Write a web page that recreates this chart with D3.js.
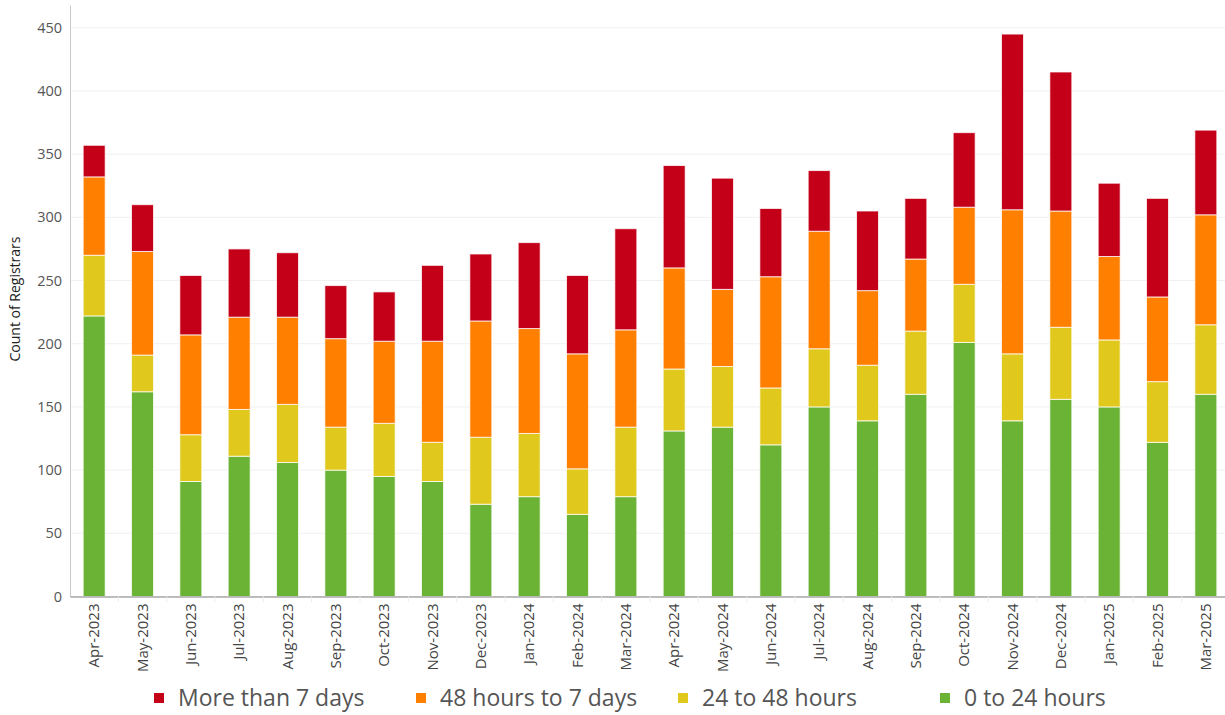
<!DOCTYPE html>
<html lang="en">
<head>
    <meta charset="UTF-8">
    <meta name="viewport" content="width=device-width, initial-scale=1.0">
    <title>Count of Registrars by response time</title>
    <style>
        body {
            font-family: "Open Sans", Arial, sans-serif;
            margin: 0;
            padding: 0;
            background: #fff;
        }

        svg {
            display: block;
        }
    </style>
</head>
<body>
    <svg id="chart"></svg>
    <script src="https://d3js.org/d3.v7.min.js"></script>
    <script>
        // Data
        const months = ["Apr-2023", "May-2023", "Jun-2023", "Jul-2023", "Aug-2023", "Sep-2023",
            "Oct-2023", "Nov-2023", "Dec-2023", "Jan-2024", "Feb-2024", "Mar-2024",
            "Apr-2024", "May-2024", "Jun-2024", "Jul-2024", "Aug-2024", "Sep-2024",
            "Oct-2024", "Nov-2024", "Dec-2024", "Jan-2025", "Feb-2025", "Mar-2025"];

        const under24h = [222, 162, 91, 111, 106, 100, 95, 91, 73, 79, 65, 79, 131, 134, 120, 150, 139, 160, 201, 139, 156, 150, 122, 160];
        const h24to48 = [48, 29, 37, 37, 46, 34, 42, 31, 53, 50, 36, 55, 49, 48, 45, 46, 44, 50, 46, 53, 57, 53, 48, 55];
        const h48to7d = [62, 82, 79, 73, 69, 70, 65, 80, 92, 83, 91, 77, 80, 61, 88, 93, 59, 57, 61, 114, 92, 66, 67, 87];
        const over7d = [25, 37, 47, 54, 51, 42, 39, 60, 53, 68, 62, 80, 81, 88, 54, 48, 63, 48, 59, 139, 110, 58, 78, 67];

        const seriesNames = ["0 to 24 hours", "24 to 48 hours", "48 hours to 7 days", "More than 7 days"];
        const yTicks = [0, 50, 100, 150, 200, 250, 300, 350, 400, 450];

        document.addEventListener("DOMContentLoaded", function () {
            const width = 1225;
            const height = 715;
            const plot = { left: 70, right: 1230, top: 5, bottom: 596.5 };

            const svg = d3.select("#chart")
                .attr("width", width)
                .attr("height", height);

            const rows = months.map((m, i) => ({
                month: m,
                "0 to 24 hours": under24h[i],
                "24 to 48 hours": h24to48[i],
                "48 hours to 7 days": h48to7d[i],
                "More than 7 days": over7d[i]
            }));

            const color = d3.scaleOrdinal()
                .domain(seriesNames)
                .range(["#6ab334", "#e1c81c", "#ff7f00", "#c40019"]);

            const x = d3.scaleBand()
                .domain(months)
                .range([plot.left, plot.right])
                .paddingInner(0.545)
                .paddingOuter(0.2725);

            const y = d3.scaleLinear()
                .domain([0, 468])
                .range([plot.bottom, plot.top]);

            // gridlines
            svg.append("g")
                .selectAll("line")
                .data(yTicks)
                .enter().append("line")
                .attr("x1", plot.left)
                .attr("x2", width)
                .attr("y1", d => y(d))
                .attr("y2", d => y(d))
                .attr("stroke", "#f0f0f0")
                .attr("stroke-width", 1);

            // y axis
            const yAxis = svg.append("g")
                .attr("transform", "translate(" + plot.left + ",0)")
                .call(d3.axisLeft(y).tickValues(yTicks).tickSize(0).tickPadding(8));
            yAxis.select(".domain").attr("stroke", "#c8c8c8");
            yAxis.selectAll("text")
                .attr("fill", "#555")
                .style("font-size", "14.5px")
                .style("font-family", "'Open Sans', sans-serif");

            svg.append("text")
                .attr("transform", "translate(20,299) rotate(-90)")
                .attr("text-anchor", "middle")
                .style("font-size", "14px")
                .attr("fill", "#222")
                .text("Count of Registrars");

            // stacked bars
            const stack = d3.stack().keys(seriesNames);
            const layers = stack(rows);

            svg.append("g")
                .selectAll("g")
                .data(layers)
                .enter().append("g")
                .attr("fill", d => color(d.key))
                .selectAll("rect")
                .data(d => d)
                .enter().append("rect")
                .attr("x", d => x(d.data.month))
                .attr("width", x.bandwidth())
                .attr("y", d => y(d[1]))
                .attr("height", d => y(d[0]) - y(d[1]))
                .attr("stroke", "#fff")
                .attr("stroke-opacity", 0.75)
                .attr("stroke-width", 1);

            // x axis
            const xAxis = svg.append("g")
                .attr("transform", "translate(0," + plot.bottom + ")")
                .call(d3.axisBottom(x).tickSize(0).tickPadding(0));
            xAxis.select(".domain").attr("stroke", "#a8a8a8").attr("stroke-width", 1.5);
            xAxis.selectAll("text")
                .attr("transform", "rotate(-90)")
                .attr("text-anchor", "end")
                .attr("x", -7)
                .attr("y", 0)
                .attr("dy", "0.35em")
                .attr("fill", "#444")
                .style("font-size", "15px")
                .style("font-family", "'Open Sans', sans-serif");

            // separators between months
            svg.append("g")
                .selectAll("line")
                .data(months.slice(1))
                .enter().append("line")
                .attr("x1", d => x(d) - x.step() * x.paddingInner() / 2)
                .attr("x2", d => x(d) - x.step() * x.paddingInner() / 2)
                .attr("y1", plot.bottom)
                .attr("y2", plot.bottom + 6)
                .attr("stroke", "#eee");

            // legend
            const legendOrder = ["More than 7 days", "48 hours to 7 days", "24 to 48 hours", "0 to 24 hours"];
            const legendX = [154, 416, 678, 940];
            const legend = svg.append("g")
                .selectAll("g")
                .data(legendOrder)
                .enter().append("g")
                .attr("transform", (d, i) => "translate(" + legendX[i] + ",693)");

            legend.append("rect")
                .attr("width", 10)
                .attr("height", 10)
                .attr("fill", d => color(d));

            legend.append("text")
                .attr("x", 24)
                .attr("y", 13)
                .attr("fill", "#555")
                .style("font-size", "23px")
                .text(d => d);
        });
    </script>
</body>
</html>
